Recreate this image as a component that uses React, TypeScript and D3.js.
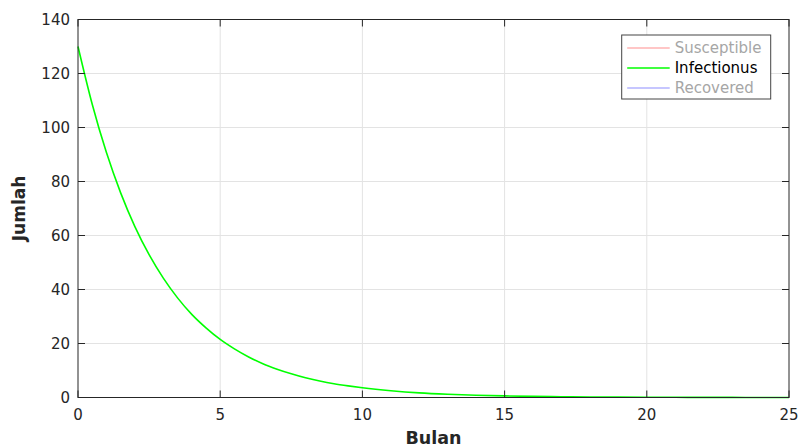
import * as d3 from "d3";

// months (Bulan) and the infectious count
const months = [
  0, 0.5, 1, 1.5, 2, 2.5, 3, 3.5, 4, 4.5, 5, 5.5, 6, 6.5, 7, 7.5, 8, 8.5, 9, 9.5, 10,
  11, 12, 13, 14, 15, 16, 17, 18, 19, 20, 21, 22, 23, 24, 25,
];
const infectious = [
  130, 108.6, 90.7, 75.8, 63.3, 52.9, 44.2, 36.9, 30.8, 25.8, 21.5, 18.0, 15.0, 12.5, 10.5,
  8.8, 7.3, 6.1, 5.1, 4.3, 3.6, 2.5, 1.7, 1.2, 0.85, 0.6, 0.4, 0.3, 0.2, 0.14, 0.1, 0.07,
  0.05, 0.03, 0.02, 0.015,
];
const xTicks = [0, 5, 10, 15, 20, 25];
const yTicks = [0, 20, 40, 60, 80, 100, 120, 140];
const legendNames = ["Susceptible", "Infectionus", "Recovered"];
const legendColors = ["#ffb3b3", "#00ff00", "#b3b3ff"];
const legendActive = [false, true, false];

export default function App() {
  const width = 798;
  const height = 448;
  const margin = { top: 19.5, right: 9, bottom: 50.5, left: 78 };
  const innerW = width - margin.left - margin.right;
  const innerH = height - margin.top - margin.bottom;

  const x = d3.scaleLinear().domain([0, 25]).range([0, innerW]);
  const y = d3.scaleLinear().domain([0, 140]).range([innerH, 0]);

  const points = months.map((m, i) => [m, infectious[i]] as [number, number]);
  const line = d3
    .line<[number, number]>()
    .x((d) => x(d[0]))
    .y((d) => y(d[1]))
    .curve(d3.curveMonotoneX);

  const axisColor = "#262626";
  const gridColor = "#e3e3e3";
  const tick = 7;
  const font = "'DejaVu Sans', 'Liberation Sans', Arial, sans-serif";

  // legend placement (axes coords)
  const lg = { x: 543.7, y: 15.5, w: 149, h: 64 };

  return (
    <svg
      width={width}
      height={height}
      style={{ position: "fixed", left: 0, top: 0, background: "#fff" }}
      fontFamily={font}
    >
      <g transform={`translate(${margin.left},${margin.top})`}>
        {/* grid */}
        {xTicks.slice(1, -1).map((t) => (
          <line key={`gx${t}`} x1={x(t)} x2={x(t)} y1={0} y2={innerH} stroke={gridColor} strokeWidth={1} />
        ))}
        {yTicks.slice(1, -1).map((t) => (
          <line key={`gy${t}`} x1={0} x2={innerW} y1={y(t)} y2={y(t)} stroke={gridColor} strokeWidth={1} />
        ))}

        {/* curve */}
        <path d={line(points) ?? ""} fill="none" stroke="#00ff00" strokeWidth={1.6} />

        {/* box + inward ticks */}
        <rect x={0} y={0} width={innerW} height={innerH} fill="none" stroke={axisColor} strokeWidth={1} />
        {xTicks.map((t) => (
          <g key={`tx${t}`}>
            <line x1={x(t)} x2={x(t)} y1={innerH} y2={innerH - tick} stroke={axisColor} />
            <line x1={x(t)} x2={x(t)} y1={0} y2={tick} stroke={axisColor} />
            <text x={x(t)} y={innerH + 22} textAnchor="middle" fontSize={15} fill={axisColor}>
              {t}
            </text>
          </g>
        ))}
        {yTicks.map((t) => (
          <g key={`ty${t}`}>
            <line x1={0} x2={tick} y1={y(t)} y2={y(t)} stroke={axisColor} />
            <line x1={innerW} x2={innerW - tick} y1={y(t)} y2={y(t)} stroke={axisColor} />
            <text x={-8} y={y(t)} dy="0.35em" textAnchor="end" fontSize={15} fill={axisColor}>
              {t}
            </text>
          </g>
        ))}

        {/* axis labels */}
        <text x={innerW / 2} y={innerH + 46} textAnchor="middle" fontSize={17.5} fontWeight="bold" fill={axisColor}>
          Bulan
        </text>
        <text
          transform={`translate(${-53},${innerH / 2}) rotate(-90)`}
          textAnchor="middle"
          fontSize={17}
          fontWeight="bold"
          fill={axisColor}
        >
          Jumlah
        </text>

        {/* legend */}
        <g transform={`translate(${lg.x},${lg.y})`}>
          <rect x={0} y={0} width={lg.w} height={lg.h} fill="#fff" stroke="#444" strokeWidth={1} />
          {legendNames.map((name, i) => (
            <g key={name} transform={`translate(0,${13 + i * 20})`}>
              <line x1={5.5} x2={48} y1={0} y2={0} stroke={legendColors[i]} strokeWidth={1.5} />
              <text x={53} y={0} dy="0.35em" fontSize={15} fill={legendActive[i] ? "#000" : "#a6a6a6"}>
                {name}
              </text>
            </g>
          ))}
        </g>
      </g>
    </svg>
  );
}
